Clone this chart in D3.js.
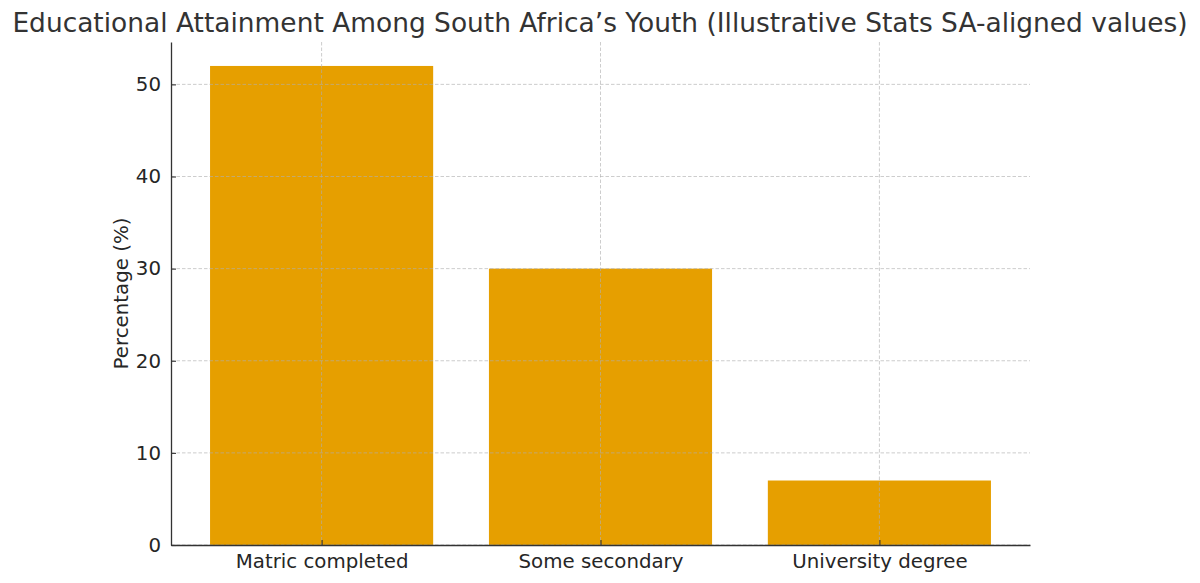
<!DOCTYPE html>
<html>
<head>
<meta charset="utf-8">
<script src="https://cdn.jsdelivr.net/npm/d3@7"></script>
<style>
  body { margin: 0; background: #fff; }
  svg { display: block; font-family: "DejaVu Sans", sans-serif; }
</style>
</head>
<body>
<svg id="chart" width="1200" height="583"></svg>
<script>
var categories = ["Matric completed", "Some secondary", "University degree"];
var percentages = [52, 30, 7];
var yTicks = [0, 10, 20, 30, 40, 50];

var margin = {top: 42, right: 170, bottom: 38, left: 171};
var width = 1200, height = 583;
var svg = d3.select("#chart");

// matplotlib style: bars of width 0.8 with 5% padding
var x = d3.scaleLinear()
    .domain([-0.54, categories.length - 1 + 0.54])
    .range([margin.left, width - margin.right]);
var y = d3.scaleLinear()
    .domain([0, d3.max(percentages) * 1.05])
    .range([height - margin.bottom, margin.top]);

var barW = x(0.8) - x(0);

svg.append("g")
    .selectAll("rect")
    .data(percentages)
    .enter().append("rect")
    .attr("x", function(d, i) { return x(i) - barW / 2; })
    .attr("y", function(d) { return y(d); })
    .attr("width", barW)
    .attr("height", function(d) { return y(0) - y(d); })
    .attr("fill", "#E69F00");

// grid on top of bars
var grid = svg.append("g")
    .attr("stroke", "#b0b0b0")
    .attr("stroke-opacity", 0.7)
    .attr("stroke-dasharray", "3.5,2")
    .attr("stroke-width", 0.9);
grid.selectAll("line.h")
    .data(yTicks)
    .enter().append("line")
    .attr("x1", margin.left).attr("x2", width - margin.right)
    .attr("y1", function(d) { return y(d); })
    .attr("y2", function(d) { return y(d); });
grid.selectAll("line.v")
    .data(categories)
    .enter().append("line")
    .attr("x1", function(d, i) { return x(i); })
    .attr("x2", function(d, i) { return x(i); })
    .attr("y1", margin.top).attr("y2", height - margin.bottom);

var yAxis = svg.append("g")
    .attr("transform", "translate(" + margin.left + ",0)")
    .call(d3.axisLeft(y).tickValues(yTicks).tickSizeInner(-5).tickSizeOuter(0).tickPadding(10));
var xAxis = svg.append("g")
    .attr("transform", "translate(0," + (height - margin.bottom) + ")")
    .call(d3.axisBottom(x).tickValues(d3.range(categories.length))
        .tickFormat(function(i) { return categories[i]; })
        .tickSizeInner(-5).tickSizeOuter(0).tickPadding(9));

[yAxis, xAxis].forEach(function(ax) {
    ax.select(".domain").attr("stroke", "#333").attr("stroke-width", 1.3);
    ax.selectAll(".tick line").attr("stroke", "#333").attr("stroke-width", 1.1);
    ax.selectAll(".tick text")
        .attr("fill", "#262626")
        .style("font-size", "19.8px")
        .style("font-family", "DejaVu Sans");
});

svg.append("text")
    .attr("transform", "translate(128," + ((margin.top + height - margin.bottom) / 2) + ") rotate(-90)")
    .attr("text-anchor", "middle")
    .attr("fill", "#262626")
    .style("font-size", "19.8px")
    .text("Percentage (%)");

svg.append("text")
    .attr("x", width / 2)
    .attr("y", 32)
    .attr("text-anchor", "middle")
    .attr("fill", "#333")
    .style("font-size", "26.45px")
    .text("Educational Attainment Among South Africa\u2019s Youth (Illustrative Stats SA-aligned values)");
</script>
</body>
</html>
